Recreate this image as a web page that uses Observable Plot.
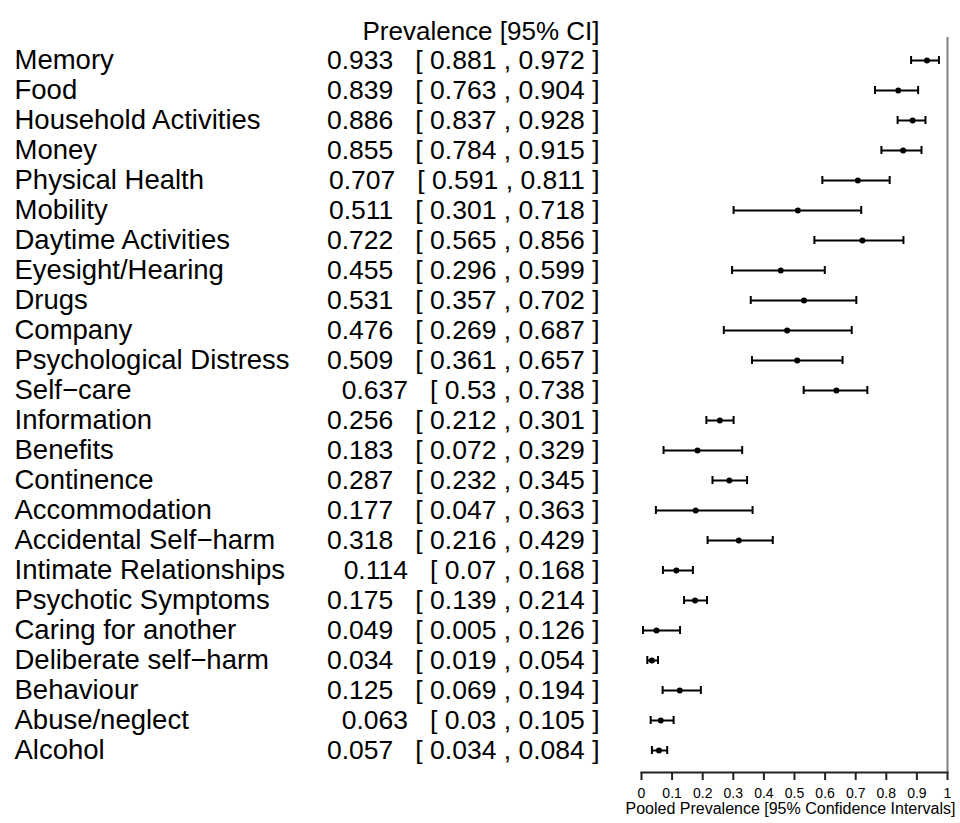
<!DOCTYPE html>
<html>
<head>
<meta charset="utf-8">
<script src="https://cdn.jsdelivr.net/npm/d3@7"></script>
<script src="https://cdn.jsdelivr.net/npm/@observablehq/plot@0.6"></script>
<style>
  html, body { margin: 0; padding: 0; background: #fff; }
  svg text { white-space: pre; }
</style>
</head>
<body>
<div id="chart"></div>
<script>
const categories = [
  "Memory", "Food", "Household Activities", "Money", "Physical Health", "Mobility",
  "Daytime Activities", "Eyesight/Hearing", "Drugs", "Company", "Psychological Distress",
  "Self\u2212care", "Information", "Benefits", "Continence", "Accommodation",
  "Accidental Self\u2212harm", "Intimate Relationships", "Psychotic Symptoms",
  "Caring for another", "Deliberate self\u2212harm", "Behaviour", "Abuse/neglect", "Alcohol"
];
const estimate = [0.933, 0.839, 0.886, 0.855, 0.707, 0.511, 0.722, 0.455, 0.531, 0.476, 0.509,
  0.637, 0.256, 0.183, 0.287, 0.177, 0.318, 0.114, 0.175, 0.049, 0.034, 0.125, 0.063, 0.057];
const lower = [0.881, 0.763, 0.837, 0.784, 0.591, 0.301, 0.565, 0.296, 0.357, 0.269, 0.361,
  0.53, 0.212, 0.072, 0.232, 0.047, 0.216, 0.07, 0.139, 0.005, 0.019, 0.069, 0.03, 0.034];
const upper = [0.972, 0.904, 0.928, 0.915, 0.811, 0.718, 0.856, 0.599, 0.702, 0.687, 0.657,
  0.738, 0.301, 0.329, 0.345, 0.363, 0.429, 0.168, 0.214, 0.126, 0.054, 0.194, 0.105, 0.084];
const xTicks = [0, 0.1, 0.2, 0.3, 0.4, 0.5, 0.6, 0.7, 0.8, 0.9, 1];
const headerText = "Prevalence [95% CI]";
const axisTitle = "Pooled Prevalence [95% Confidence Intervals]";

const data = categories.map((c, i) => ({
  label: c,
  est: estimate[i],
  lo: lower[i],
  hi: upper[i],
  txt: `${estimate[i]}   [ ${lower[i]} , ${upper[i]} ]`
}));

const chart = Plot.plot({
  width: 960,
  height: 823,
  marginLeft: 641,
  marginRight: 13,
  marginTop: 37,
  marginBottom: 51,
  style: { fontFamily: "'Liberation Sans', Arial, Helvetica, sans-serif", background: "#fff", color: "#000" },
  x: { domain: [0, 1], axis: null },
  y: { type: "band", domain: categories, padding: 0, axis: null },
  marks: [
    Plot.ruleX([1], { stroke: "#808080", strokeWidth: 2 }),
    Plot.frame({ anchor: "bottom", stroke: "#222", strokeWidth: 2 }),
    Plot.axisX(xTicks, {
      anchor: "bottom", tickSize: 8, tickPadding: 8, fontSize: 14,
      tickFormat: d => String(d), stroke: "#222", strokeWidth: 2, label: null
    }),
    Plot.ruleY(data, { y: "label", x1: "lo", x2: "hi", stroke: "#000", strokeWidth: 2 }),
    Plot.tickX(data, { x: "lo", y: "label", insetTop: 11, insetBottom: 11, stroke: "#000", strokeWidth: 2 }),
    Plot.tickX(data, { x: "hi", y: "label", insetTop: 11, insetBottom: 11, stroke: "#000", strokeWidth: 2 }),
    Plot.dot(data, { x: "est", y: "label", r: 3, fill: "#000" }),
    Plot.text(data, { y: "label", text: "label", frameAnchor: "left", dx: -627, textAnchor: "start", fontSize: 27.5, fill: "#000" }),
    Plot.text(data, { y: "label", text: "txt", frameAnchor: "left", dx: -42, textAnchor: "end", fontSize: 26.5, fill: "#000" }),
    Plot.text([headerText], { frameAnchor: "top-left", dx: -42, dy: -16, textAnchor: "end", fontSize: 26, fill: "#000" }),
    Plot.text([axisTitle], { frameAnchor: "bottom", dy: 41, dx: -4, fontSize: 16, fill: "#000" })
  ]
});
document.getElementById("chart").appendChild(chart);
</script>
</body>
</html>
